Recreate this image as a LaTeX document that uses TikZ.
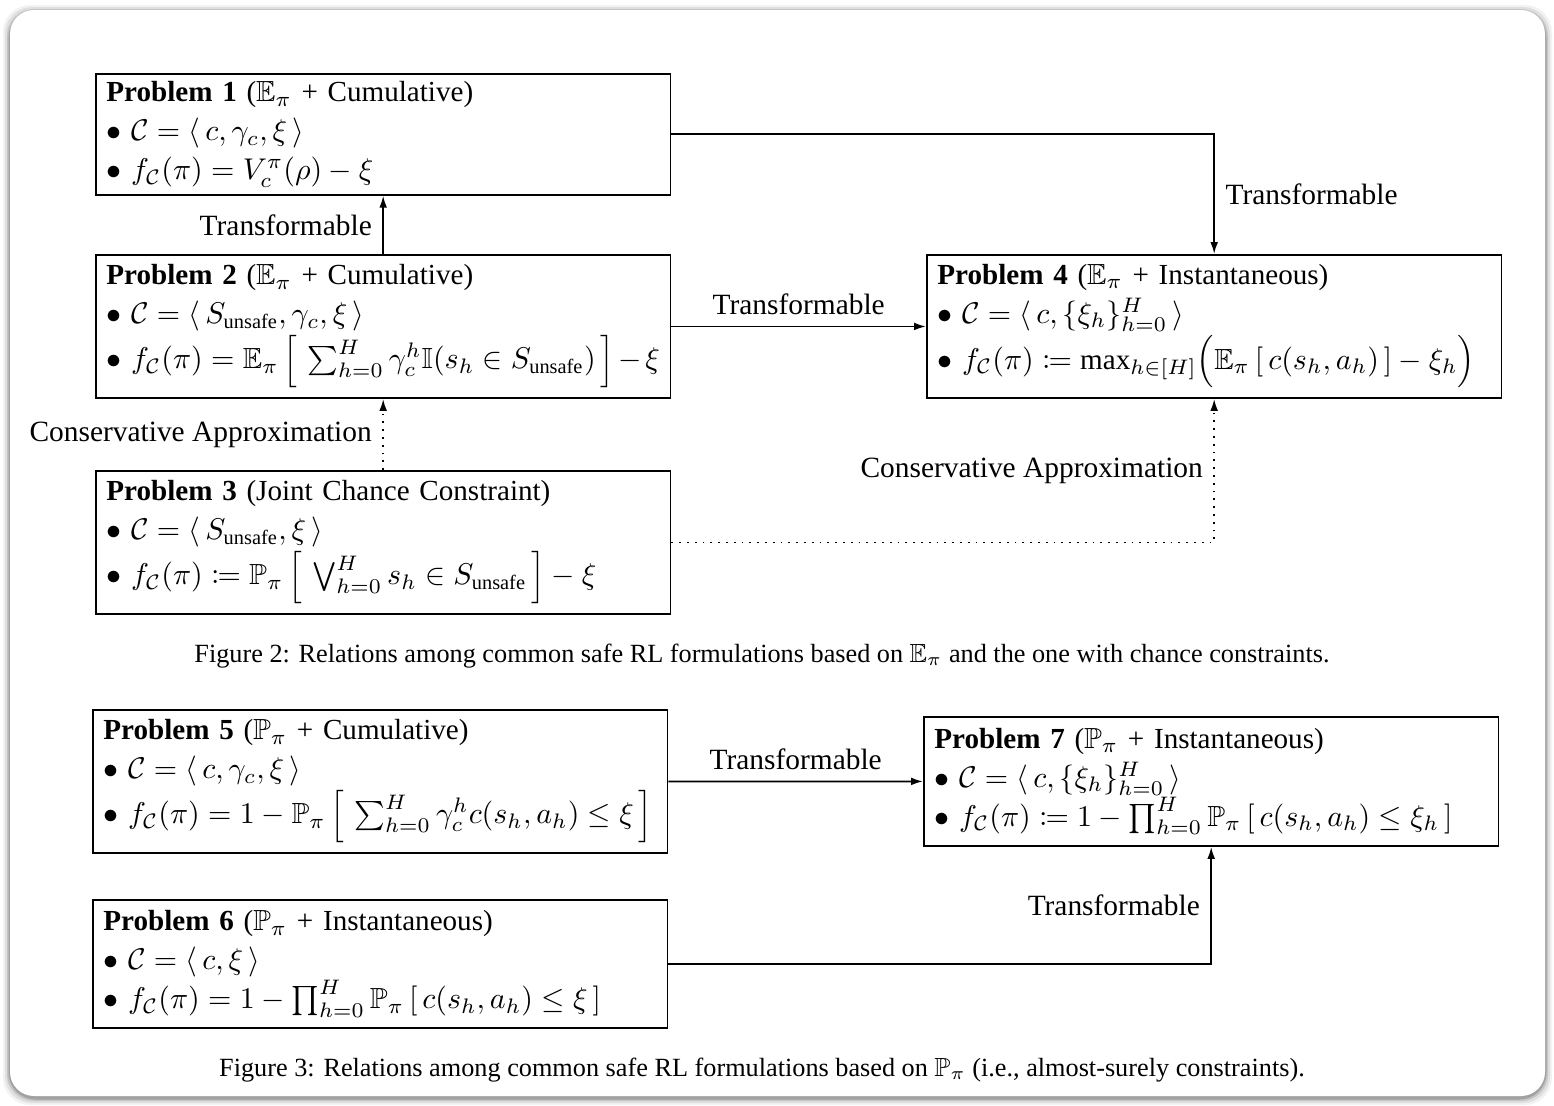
\documentclass[tikz,border=0pt]{standalone}
\usepackage{amsmath,amssymb,mathtools}
\usepackage{fontspec}
\setmainfont{Liberation Serif}
\usetikzlibrary{arrows.meta}

\newcommand{\itm}{$\bullet$\ }

\tikzset{
  probbox/.style={draw, line width=0.6pt, anchor=north west, inner xsep=3.3pt, inner ysep=0pt,
    text width=184.5pt, align=left, minimum width=191.5pt, font=\fontsize{9.7}{13}\selectfont},
  flow/.style={-{Latex[length=4pt,width=2.6pt]}, line width=0.6pt},
  approx/.style={flow, dotted},
  lbl/.style={font=\fontsize{9.8}{12}\selectfont, inner sep=3.5pt},
  capt/.style={font=\fontsize{8.75}{11}\selectfont},
}

\begin{document}
\begin{tikzpicture}[x=0.3333pt, y=-0.3333pt]
  \useasboundingbox (0,0) rectangle (1554,1106);
  % card with soft shadow
  \foreach \d/\o in {7/0.05,5/0.08,3/0.12,1.5/0.18}
    \fill[black, opacity=\o, rounded corners=9pt] (10-\d,12-\d) rectangle (1545+\d,1098+\d);
  \fill[white, rounded corners=8pt] (10,10) rectangle (1545,1096);

  % figure 2
  \node[probbox, minimum height=40.3pt] (p1) at (95,73) {%
    \textbf{Problem 1} ($\mathbb{E}_\pi$ + Cumulative)\\
    \itm $\mathcal{C} = \langle\, c, \gamma_c, \xi \,\rangle$\\
    \itm $f_{\mathcal{C}}(\pi) = V_c^\pi(\rho) - \xi$};
  \node[probbox, minimum height=47.7pt] (p2) at (95,254) {%
    \textbf{Problem 2} ($\mathbb{E}_\pi$ + Cumulative)\\
    \itm $\mathcal{C} = \langle\, S_{\text{unsafe}}, \gamma_c, \xi \,\rangle$\\
    \itm $f_{\mathcal{C}}(\pi) = \mathbb{E}_\pi \,\Big[\, \sum_{h=0}^H \gamma_c^h \mathbb{I}(s_h \in S_{\text{unsafe}}) \,\Big] - \xi$};
  \node[probbox, minimum height=47.7pt] (p3) at (95,470) {%
    \textbf{Problem 3} (Joint Chance Constraint)\\
    \itm $\mathcal{C} = \langle\, S_{\text{unsafe}}, \xi \,\rangle$\\
    \itm $f_{\mathcal{C}}(\pi) \coloneqq \mathbb{P}_\pi \,\Big[\, \bigvee_{h=0}^H s_h \in S_{\text{unsafe}} \,\Big] - \xi$};
  \node[probbox, minimum height=47.7pt] (p4) at (926,254) {%
    \textbf{Problem 4} ($\mathbb{E}_\pi$ + Instantaneous)\\
    \itm $\mathcal{C} = \langle\, c, \{\xi_h\}_{h=0}^H \,\rangle$\\
    \itm $f_{\mathcal{C}}(\pi) \coloneqq \max_{h\in[H]} \Bigl(\mathbb{E}_\pi \,[\, c(s_h,a_h) \,] - \xi_h \Bigr)$};

  \draw[flow] (p2.north) -- (p1.south) node[lbl, midway, left] {Transformable};
  \draw[flow] (p1.east) -| (p4.north) node[lbl, pos=0.75, right] {Transformable};
  \draw[flow] (p2.east) -- (p4.west) node[lbl, midway, above] {Transformable};
  \draw[approx] (p3.north) -- (p2.south) node[lbl, midway, left] {Conservative Approximation};
  \draw[approx] (p3.east) -| (p4.south) node[lbl, pos=0.75, left] {Conservative Approximation};

  \node[capt] (cap2) at (762,656) {Figure 2: Relations among common safe RL formulations based on $\mathbb{E}_\pi$ and the one with chance constraints.};

  % figure 3
  \node[probbox, minimum height=47.7pt] (p5) at (92,709) {%
    \textbf{Problem 5} ($\mathbb{P}_\pi$ + Cumulative)\\
    \itm $\mathcal{C} = \langle\, c, \gamma_c, \xi \,\rangle$\\
    \itm $f_{\mathcal{C}}(\pi) = 1 - \mathbb{P}_\pi \,\Big[\, \sum_{h=0}^H \gamma_c^h c(s_h,a_h) \le \xi \,\Big]$};
  \node[probbox, minimum height=42.7pt] (p6) at (92,899) {%
    \textbf{Problem 6} ($\mathbb{P}_\pi$ + Instantaneous)\\
    \itm $\mathcal{C} = \langle\, c, \xi \,\rangle$\\
    \itm $f_{\mathcal{C}}(\pi) = 1 - \prod_{h=0}^H \mathbb{P}_\pi \,[\, c(s_h,a_h) \le \xi \,]$};
  \node[probbox, minimum height=43pt] (p7) at (923,716) {%
    \textbf{Problem 7} ($\mathbb{P}_\pi$ + Instantaneous)\\
    \itm $\mathcal{C} = \langle\, c, \{\xi_h\}_{h=0}^H \,\rangle$\\
    \itm $f_{\mathcal{C}}(\pi) \coloneqq 1 - \prod_{h=0}^H \mathbb{P}_\pi \,[\, c(s_h,a_h) \le \xi_h \,]$};

  \draw[flow] (p5.east) -- (p7.west) node[lbl, midway, above] {Transformable};
  \draw[flow] (p6.east) -| (p7.south) node[lbl, pos=0.75, left] {Transformable};

  \node[capt] (cap3) at (762,1070) {Figure 3: Relations among common safe RL formulations based on $\mathbb{P}_\pi$ (i.e., almost-surely constraints).};
\end{tikzpicture}
\end{document}
